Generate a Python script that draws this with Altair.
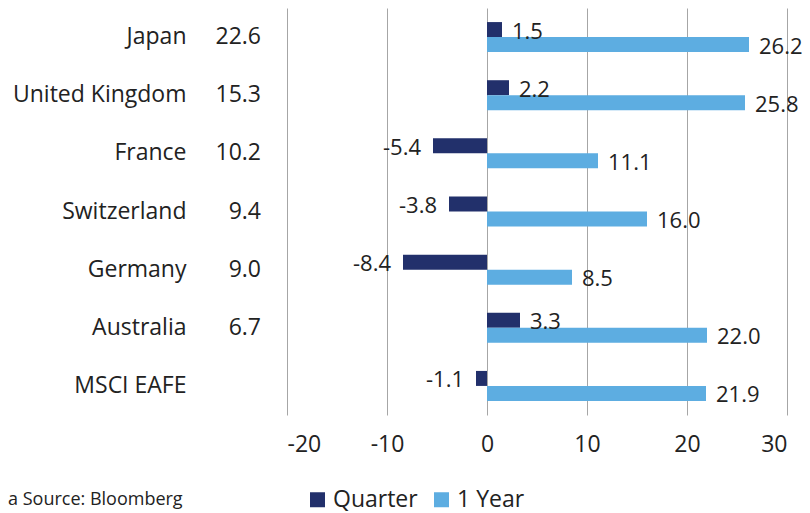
import altair as alt
import pandas as pd

countries = ["Japan", "United Kingdom", "France", "Switzerland", "Germany", "Australia", "MSCI EAFE"]
weights = ["22.6", "15.3", "10.2", "9.4", "9.0", "6.7", ""]
quarter = [1.5, 2.2, -5.4, -3.8, -8.4, 3.3, -1.1]
one_year = [26.2, 25.8, 11.1, 16.0, 8.5, 22.0, 21.9]
series = ["Quarter", "1 Year"]
colors = ["#22306B", "#5DADE1"]
x_ticks = [-20, -10, 0, 10, 20, 30]
source_text = "a Source: Bloomberg"

rows = []
for c, q, y in zip(countries, quarter, one_year):
    rows.append({"country": c, "series": "Quarter", "value": q})
    rows.append({"country": c, "series": "1 Year", "value": y})
df = pd.DataFrame(rows)
wdf = pd.DataFrame({"country": countries, "weight": weights})
sdf = pd.DataFrame({"t": [source_text]})

FONT = "Open Sans"
FS = 23
BFS = 22
TXT = "#222222"

y_enc = alt.Y("country:N", sort=countries,
              scale=alt.Scale(paddingInner=0.484, paddingOuter=0.242),
              axis=alt.Axis(title=None, ticks=False, domain=False, labelPadding=101,
                            labelFontSize=FS, labelFont=FONT, labelColor=TXT, labelAlign="right"))
yoff = alt.YOffset("series:N", sort=series, scale=alt.Scale(paddingInner=0, paddingOuter=0))
x_enc = alt.X("value:Q", scale=alt.Scale(domain=[-20, 30], nice=False),
              axis=alt.Axis(title=None, values=x_ticks, grid=True, gridColor="#A6A6A6",
                            ticks=False, domain=False, labelPadding=18, labelFontSize=FS,
                            labelFont=FONT, labelColor=TXT, labelExpr="datum.value + ''"))

base = alt.Chart(df).transform_calculate(
    lab="replace(format(datum.value, '.1f'), '\u2212', '-')"
)
bars = base.mark_bar(size=15).encode(
    x=x_enc, y=y_enc, yOffset=yoff,
    color=alt.Color("series:N", sort=series,
                    scale=alt.Scale(domain=series, range=colors),
                    legend=alt.Legend(title=None, orient="none", legendX=19, legendY=480,
                                      direction="horizontal", symbolType="square",
                                      symbolSize=225, symbolStrokeWidth=0, labelFontSize=FS,
                                      labelFont=FONT, labelColor=TXT, columnPadding=12,
                                      labelOffset=4)),
)
pos_txt = base.transform_filter("datum.value >= 0").mark_text(
    align="left", dx=10, dy=2, fontSize=BFS, font=FONT, color=TXT
).encode(x="value:Q", y=alt.Y("country:N", sort=countries), yOffset=yoff, text="lab:N")
neg_txt = base.transform_filter("datum.value < 0").mark_text(
    align="right", dx=-12, dy=2, fontSize=BFS, font=FONT, color=TXT
).encode(x="value:Q", y=alt.Y("country:N", sort=countries), yOffset=yoff, text="lab:N")
wt = alt.Chart(wdf).mark_text(align="right", fontSize=FS, font=FONT, color=TXT).encode(
    x=alt.value(-26), y=alt.Y("country:N", sort=countries), text="weight:N")
src = alt.Chart(sdf).mark_text(align="left", baseline="alphabetic", fontSize=18, font=FONT,
                               color=TXT).encode(
    x=alt.value(-279), y=alt.value(497), text="t:N")

chart = alt.layer(bars, pos_txt, neg_txt, wt, src).properties(
    width=500, height=407,
    autosize=alt.AutoSizeParams(type="none"),
    padding={"left": 279, "top": 0, "right": 15, "bottom": 98},
).configure_view(stroke=None)

chart.save("out.html", embed_options={"renderer": "svg", "actions": False})
